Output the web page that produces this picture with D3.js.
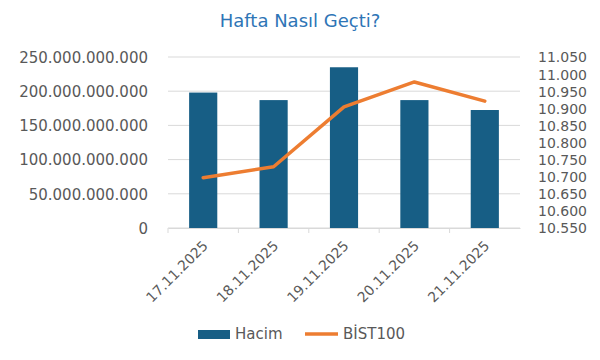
<!DOCTYPE html>
<html>
<head>
<meta charset="utf-8">
<script src="https://cdn.jsdelivr.net/npm/d3@7"></script>
<style>
  body { margin: 0; background: #fff; }
  text { font-family: "DejaVu Sans", sans-serif; }
</style>
</head>
<body>
<div class="chart"></div>
<script>
var w = 600,
    h = 360;

var dates = ["17.11.2025", "18.11.2025", "19.11.2025", "20.11.2025", "21.11.2025"];
var hacim = [198000000000, 187000000000, 235000000000, 187000000000, 172500000000];
var bist100 = [10697, 10729, 10904, 10977, 10921];
var leftTicks = [0, 50e9, 100e9, 150e9, 200e9, 250e9];
var rightTicks = d3.range(10550, 11051, 50);

var barColor = "#175E85",
    lineColor = "#ED7D31",
    textColor = "#595959";

var margin = { left: 168, right: 80, top: 57, bottom: 132 };

var svg = d3.select("body").select(".chart").append("svg")
  .attr("width", w)
  .attr("height", h);

var x = d3.scaleBand()
  .domain(dates)
  .range([margin.left, w - margin.right])
  .paddingInner(0.6)
  .paddingOuter(0.3);

var yL = d3.scaleLinear()
  .domain([0, 250e9])
  .range([h - margin.bottom, margin.top]);

var yR = d3.scaleLinear()
  .domain([10550, 11050])
  .range([h - margin.bottom, margin.top]);

var fmt = function(d) {
  return d3.format(",")(d).replace(/,/g, ".");
};

// title
svg.append("text")
  .attr("x", 300)
  .attr("y", 27)
  .attr("text-anchor", "middle")
  .style("font-size", "18px")
  .style("fill", "#2E75B6")
  .text("Hafta Nasıl Geçti?");

// gridlines
svg.append("g")
  .selectAll("line")
  .data(leftTicks)
  .enter()
  .append("line")
  .attr("x1", margin.left)
  .attr("x2", w - margin.right)
  .attr("y1", function(d) { return yL(d); })
  .attr("y2", function(d) { return yL(d); })
  .style("stroke", "#D9D9D9")
  .style("stroke-width", 1);

// left axis
var leftAxis = svg.append("g")
  .attr("transform", "translate(" + (margin.left - 17) + ",0)")
  .call(d3.axisLeft(yL).tickValues(leftTicks).tickFormat(fmt).tickSize(0));
leftAxis.select(".domain").remove();
leftAxis.selectAll("text")
  .style("font-size", "15px")
  .style("fill", textColor)
  .attr("dy", "0.35em");

// right axis
var rightAxis = svg.append("g")
  .attr("transform", "translate(" + (w - margin.right + 15) + ",0)")
  .call(d3.axisRight(yR).tickValues(rightTicks).tickFormat(fmt).tickSize(0));
rightAxis.select(".domain").remove();
rightAxis.selectAll("text")
  .style("font-size", "14px")
  .style("fill", textColor)
  .attr("dy", "0.35em");

// bottom axis
var bottomAxis = svg.append("g")
  .attr("transform", "translate(0," + (h - margin.bottom) + ")")
  .call(d3.axisBottom(x).tickSize(0));
bottomAxis.select(".domain")
  .style("stroke", "#D9D9D9");
bottomAxis.selectAll("text")
  .style("font-size", "14px")
  .style("fill", textColor)
  .style("text-anchor", "end")
  .attr("dy", "0.35em")
  .attr("transform", "translate(0,13) rotate(-45)");

// category separator ticks
var step = x.step();
svg.append("g")
  .selectAll("line")
  .data(dates)
  .enter()
  .append("line")
  .attr("x1", function(d) { return x(d) + x.bandwidth() / 2 - step / 2; })
  .attr("x2", function(d) { return x(d) + x.bandwidth() / 2 - step / 2; })
  .attr("y1", h - margin.bottom)
  .attr("y2", h - margin.bottom + 5)
  .style("stroke", "#D9D9D9");

// bars
svg.append("g")
  .selectAll("rect")
  .data(hacim)
  .enter()
  .append("rect")
  .attr("x", function(d, i) { return x(dates[i]); })
  .attr("y", function(d) { return yL(d); })
  .attr("width", x.bandwidth())
  .attr("height", function(d) { return yL(0) - yL(d); })
  .style("fill", barColor);

// line
var line = d3.line()
  .x(function(d, i) { return x(dates[i]) + x.bandwidth() / 2; })
  .y(function(d) { return yR(d); });

svg.append("path")
  .datum(bist100)
  .attr("d", line)
  .style("fill", "none")
  .style("stroke", lineColor)
  .style("stroke-width", 3.5)
  .style("stroke-linejoin", "round")
  .style("stroke-linecap", "round");

// legend
var legend = svg.append("g").attr("transform", "translate(0,334)");
legend.append("rect")
  .attr("x", 198).attr("y", -4)
  .attr("width", 32).attr("height", 9)
  .style("fill", barColor);
legend.append("text")
  .attr("x", 235).attr("y", 0).attr("dy", "0.35em")
  .style("font-size", "15px").style("fill", textColor)
  .text("Hacim");
legend.append("line")
  .attr("x1", 305).attr("x2", 338)
  .attr("y1", 0).attr("y2", 0)
  .style("stroke", lineColor).style("stroke-width", 3.5);
legend.append("text")
  .attr("x", 343).attr("y", 0).attr("dy", "0.35em")
  .style("font-size", "15px").style("fill", textColor)
  .text("BİST100");
</script>
</body>
</html>
